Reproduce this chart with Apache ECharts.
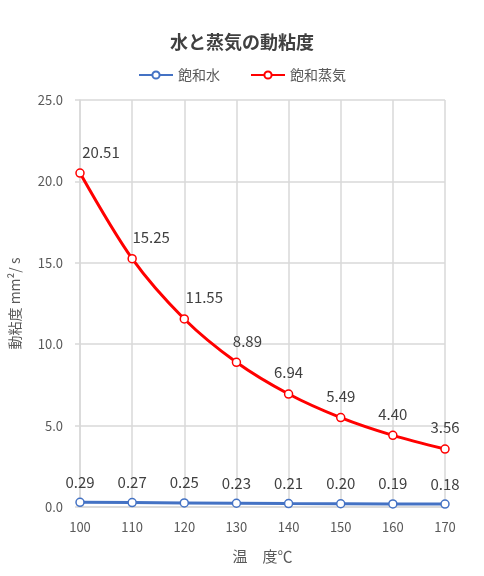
<!DOCTYPE html>
<html><head><meta charset="utf-8">
<script src="https://cdn.jsdelivr.net/npm/echarts@6/dist/echarts.min.js"></script>
<style>html,body{margin:0;padding:0;background:#fff}#c{width:484px;height:576px}</style>
</head><body><div id="c"></div>
<script>
const categories = ['100','110','120','130','140','150','160','170'];
const water = [0.29,0.27,0.25,0.23,0.21,0.20,0.19,0.18];
const steam = [20.51,15.25,11.55,8.89,6.94,5.49,4.40,3.56];
const seriesNames = ['飽和水','飽和蒸気'];
const titleText = '水と蒸気の動粘度';
const xName = '温　度℃';
const yName = '動粘度 mm²/ s';

const FONT = '"Noto Sans CJK JP", "Noto Sans", sans-serif';
// horizontal nudges of the steam data labels (as placed in the original)
const steamLabelDx = [21,19,20,11,0,0,0,0];
const chart = echarts.init(document.getElementById('c'));
const fmt = p=>p.value.toFixed(2);
chart.setOption({
  animation:false,
  textStyle:{fontFamily:FONT},
  title:{text:titleText, left:'center', top:28, textStyle:{fontSize:18, fontWeight:'bold', color:'#404040', fontFamily:FONT}},
  legend:{top:63, left:'center', itemWidth:34, itemHeight:9, itemGap:30,
    textStyle:{fontSize:14, color:'#595959', fontFamily:FONT},
    data:seriesNames},
  grid:{left:79, right:39, top:100, bottom:69},
  xAxis:{type:'category', data:categories, boundaryGap:false,
    name:xName, nameLocation:'middle', nameGap:42,
    nameTextStyle:{fontSize:15, color:'#595959', fontFamily:FONT},
    axisLine:{lineStyle:{color:'#d9d9d9', width:1.5}},
    axisTick:{show:false},
    axisLabel:{color:'#595959', fontSize:13, margin:14, fontFamily:FONT},
    splitLine:{show:true, lineStyle:{color:'#d9d9d9', width:1.5}}},
  yAxis:{type:'value', min:0, max:25, interval:5,
    name:yName, nameLocation:'middle', nameGap:58, nameRotate:90,
    nameTextStyle:{fontSize:14, color:'#595959', fontFamily:FONT},
    axisLine:{show:true, lineStyle:{color:'#d9d9d9', width:1.5}},
    axisTick:{show:true, length:5, lineStyle:{color:'#d9d9d9', width:1.5}},
    axisLabel:{color:'#595959', fontSize:13, margin:17, fontFamily:FONT, formatter:v=>v.toFixed(1)},
    splitLine:{show:true, lineStyle:{color:'#d9d9d9', width:1.5}}},
  series:[
    {name:seriesNames[0], type:'line', data:water, symbol:'circle', symbolSize:8,
      lineStyle:{color:'#4472C4', width:3}, itemStyle:{color:'#fff', borderColor:'#4472C4', borderWidth:1.5},
      label:{show:true, position:'top', distance:8, color:'#404040', fontSize:15, fontFamily:FONT, formatter:fmt}, z:3},
    {name:seriesNames[1], type:'line', smooth:0.3, symbol:'circle', symbolSize:8,
      data:steam.map((v,i)=>({value:v, label:{offset:[steamLabelDx[i],0]}})),
      lineStyle:{color:'#FF0000', width:3}, itemStyle:{color:'#fff', borderColor:'#FF0000', borderWidth:1.5},
      label:{show:true, position:'top', distance:9, color:'#404040', fontSize:15, fontFamily:FONT, formatter:fmt}, z:3}
  ]
});
</script></body></html>
